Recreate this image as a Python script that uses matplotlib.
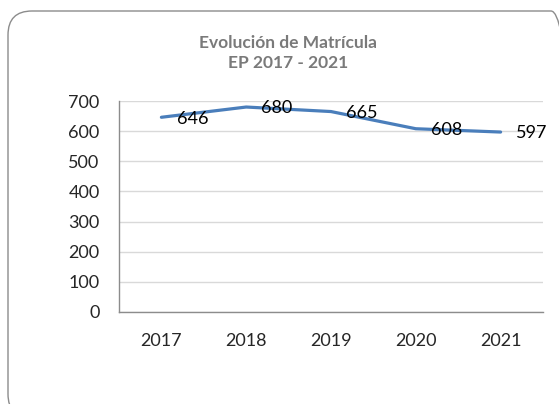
import matplotlib
matplotlib.use("Agg")
import matplotlib.pyplot as plt
from matplotlib.patches import FancyBboxPatch

years = ["2017", "2018", "2019", "2020", "2021"]
matricula = [646, 680, 665, 608, 597]
yticks = [0, 100, 200, 300, 400, 500, 600, 700]
title = "Evolución de Matrícula\nEP 2017 - 2021"

plt.rcParams['font.family'] = ['Lato', 'DejaVu Sans']

W, H = 559, 404
fig = plt.figure(figsize=(W / 100, H / 100), dpi=100)
fig.patch.set_facecolor("white")

# rounded border (pixel coordinates, origin bottom-left)
border = FancyBboxPatch((8, -14), 575 - 8, (H - 11) + 14,
                        boxstyle="round,pad=0,rounding_size=24",
                        transform=None, facecolor="none",
                        edgecolor="#8c8c8c", linewidth=1.0, clip_on=False)
fig.patches.append(border)

ax = fig.add_axes([119 / W, (H - 312) / H, (543 - 119) / W, (312 - 101) / H])
x = list(range(len(years)))
ax.plot(x, matricula, color="#4A7EBB", linewidth=2.3, solid_capstyle="round")
for xi, v in zip(x, matricula):
    ax.annotate(str(v), (xi, v), xytext=(11, -1), textcoords="offset points",
                ha="left", va="center", fontsize=13, color="black")

ax.set_xlim(-0.5, len(years) - 0.5)
ax.set_ylim(0, 700)
ax.set_yticks(yticks)
ax.set_xticks(x)
ax.set_xticklabels(years)
ax.grid(axis="y", color="#d9d9d9", linewidth=1.0)
ax.set_axisbelow(True)
for s in ["top", "right"]:
    ax.spines[s].set_visible(False)
for s in ["left", "bottom"]:
    ax.spines[s].set_color("#8c8c8c")
    ax.spines[s].set_linewidth(1.0)
ax.tick_params(axis="both", length=0, labelsize=13, colors="#262626")
ax.tick_params(axis="y", pad=14)
ax.tick_params(axis="x", pad=15)

fig.text(288 / W, (H - 53) / H, title, ha="center", va="center",
         fontsize=12.5, fontweight="bold", color="#7a7a7a", linespacing=1.3)

fig.savefig("out.png", dpi=100, facecolor="white")
